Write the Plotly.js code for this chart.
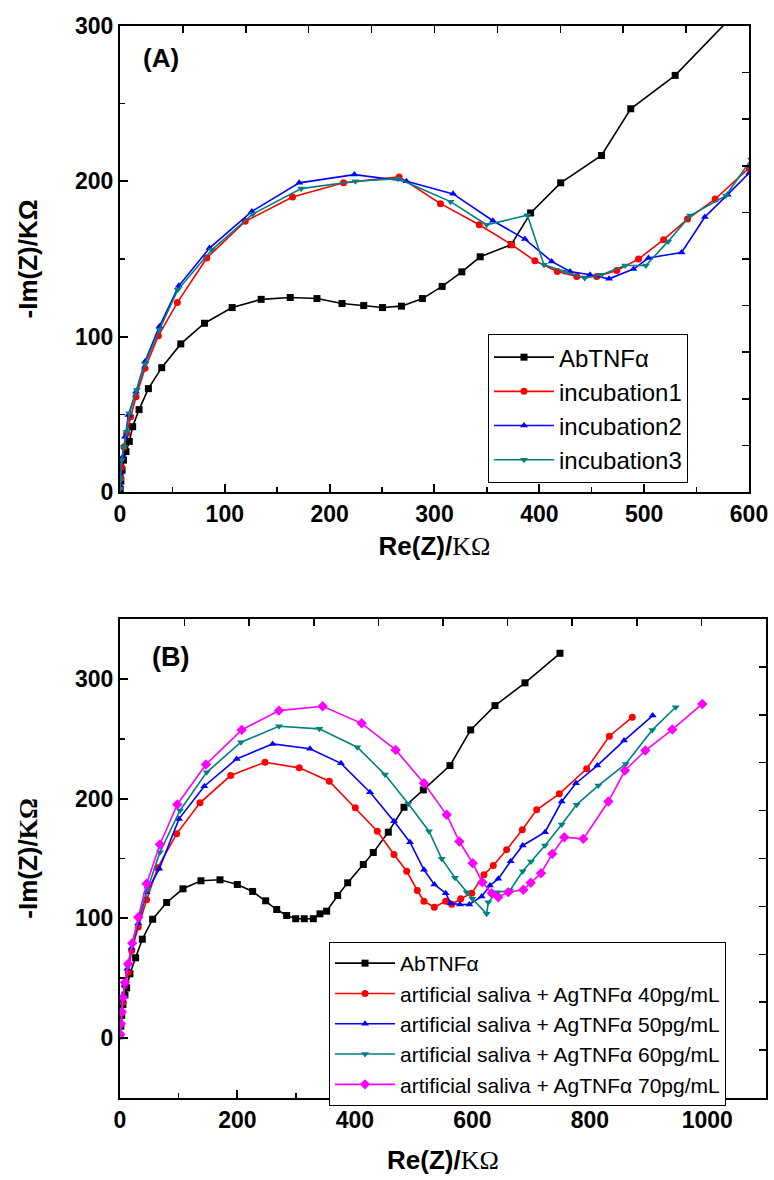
<!DOCTYPE html>
<html>
<head>
<meta charset="utf-8">
<script src="https://cdn.plot.ly/plotly-3.0.1.min.js"></script>
<style>html,body{margin:0;padding:0;background:#fff;}#chart{width:774px;height:1180px;}</style>
</head>
<body>
<div id="chart"></div>
<script>
// ---------- Panel (A) data ----------
var A_names = ['AbTNFα', 'incubation1', 'incubation2', 'incubation3'];
var A_ab_x = [0.2, 0.8, 2.0, 3.4, 5.7, 8.9, 12.1, 18.2, 27.1, 39.8, 58.0, 80.6, 107.0, 134.7, 162.4, 187.9, 211.8, 232.5, 250.4, 268.5, 288.5, 307.3, 326.1, 343.6, 373.2, 391.7, 420.4, 459.3, 487.2, 529.6, 598.0];
var A_ab_y = [1.5, 7, 14, 20.5, 26, 32.5, 42, 53, 66.5, 80, 95.3, 108.6, 118.7, 124, 125.2, 124.5, 121.3, 120, 118.7, 119.6, 124.5, 132.3, 141.7, 151.4, 159.2, 179.6, 199, 216.6, 246.7, 268.2, 316];
var A_in1_x = [0.2, 0.8, 1.6, 3.8, 6.4, 10.2, 15.3, 23.9, 36.6, 54.7, 82.8, 119.4, 164.6, 213.3, 266.3, 305.7, 342.7, 373.6, 395.8, 417.2, 435.7, 454.8, 473.9, 494.6, 518.5, 541.4, 567.8, 600.3];
var A_in1_y = [3, 9, 16.1, 29, 37.7, 48.4, 61.3, 79.6, 100.5, 121.9, 150.6, 174.2, 189.9, 199, 202.8, 185.6, 172, 159.2, 148.8, 141.9, 138.7, 138.7, 142.6, 149.9, 162.4, 175.7, 188.6, 208.6];
var A_in2_x = [0.2, 0.6, 2.5, 4.8, 8, 15.3, 23.9, 37.6, 56.1, 85.4, 125.8, 171, 223.6, 273.3, 317.8, 355.7, 386.3, 411.8, 429.3, 448.4, 466.5, 489.8, 504.1, 535.7, 557.9, 579.6, 600.3];
var A_in2_y = [4, 11.9, 22.6, 35.5, 49.5, 64.5, 83.9, 106.5, 132.7, 157, 180.6, 199, 204.3, 200, 191.9, 174.6, 162.8, 148.4, 141.9, 139.8, 137.2, 143.5, 150.6, 154.2, 177, 191.4, 205.4];
var A_in3_x = [0, 0.5, 1.6, 3.8, 6.4, 8.9, 16, 23.9, 37.6, 55.1, 87.6, 126.8, 172.9, 224.5, 265.3, 315.3, 349.7, 388.6, 404.4, 423.5, 443.3, 459.3, 481.8, 501.6, 522.9, 543.9, 578, 602];
var A_in3_y = [2, 7.5, 20.5, 29, 38.7, 50.6, 65.6, 82.5, 104.5, 130.1, 155.9, 179, 195.3, 200, 201.7, 186.9, 172, 178.1, 146.3, 141.9, 137.7, 139.8, 145.8, 145.8, 161.3, 177.9, 190.8, 214];

// ---------- Panel (B) data ----------
var B_names = ['AbTNFα', 'artificial saliva + AgTNFα 40pg/mL', 'artificial saliva + AgTNFα 50pg/mL', 'artificial saliva + AgTNFα 60pg/mL', 'artificial saliva + AgTNFα 70pg/mL'];
var B_ab_x = [0.5, 1.5, 3, 5, 8.5, 11.3, 17, 26.6, 38, 55.6, 79.5, 107.3, 137.9, 170.3, 199.8, 225.9, 248.1, 266.8, 283.8, 299.2, 313.8, 329.2, 340.5, 351.9, 370.7, 387.7, 414.3, 431.3, 456.9, 483.6, 516.5, 561.9, 597.1, 638.5, 689.6, 749.2];
var B_ab_y = [2, 10, 19, 28, 36, 42, 53.7, 67.1, 82.6, 99.3, 113.3, 124.7, 131.4, 132.2, 128.3, 122.5, 114.7, 107.4, 102.4, 99.7, 99.7, 99.7, 103.8, 106, 119.1, 129.7, 145, 155, 172, 192.8, 207.3, 227.6, 257.4, 277.7, 296.7, 321.4];
var B_40_x = [0.5, 1.5, 3, 5, 8.5, 14.1, 19.9, 31.2, 45.4, 64.2, 96.5, 136.2, 188.5, 246.9, 305.3, 356.4, 400.7, 438.2, 466.5, 488.2, 506.3, 517.6, 535.2, 554.6, 564.8, 580.1, 598.8, 619.8, 635.6, 658.4, 685, 709.5, 748, 794.6, 833.2, 872.3];
var B_40_y = [3, 12, 21, 30, 44, 55, 73.2, 92.7, 115.5, 142.2, 170.6, 196.5, 219.3, 230.4, 225.7, 214.5, 192.3, 172.8, 153.3, 139.4, 123.3, 114.4, 109.3, 114.4, 111.7, 116.4, 121, 136.4, 144.2, 157.3, 174, 190.7, 204, 224.9, 252.1, 268];
var B_50_x = [0.5, 1.5, 3, 5, 8, 12.5, 19.9, 31.2, 45.4, 66.9, 100.5, 143.5, 198.6, 260, 323.5, 376.3, 425.7, 466.5, 493.8, 517.6, 535.2, 554.6, 563, 578.9, 594.8, 615.9, 630, 644.2, 665.2, 685.7, 723.7, 752.1, 776.4, 812.7, 858.2, 907];
var B_50_y = [3, 12, 22, 32, 44, 58, 75.5, 96, 121.9, 141.4, 183.1, 210.4, 233.2, 245.7, 241.6, 229.5, 205.3, 181.1, 163.6, 140.6, 128.3, 121, 112.7, 111.6, 111.6, 118.3, 127.5, 133, 147.7, 160.9, 172, 197.6, 212.9, 227.6, 248.5, 269.4];
var B_60_x = [0.5, 1.5, 3, 5, 8, 13, 21, 32, 47.1, 68.1, 102.2, 147.6, 206, 270.7, 339.4, 404.1, 451.2, 490.9, 526.1, 547.8, 570.4, 590.3, 600, 624.3, 627.1, 641.4, 664, 685.7, 699.8, 723.7, 752.1, 777.6, 814.4, 861.1, 906.4, 946.2];
var B_60_y = [3, 12, 22, 32, 45, 60, 78, 100, 124.7, 155.3, 190.1, 222, 247.1, 260.4, 258.3, 242.9, 220.1, 195.7, 172.8, 149.7, 133.9, 121.9, 116.4, 103.8, 113.5, 121.9, 123.3, 139.4, 147.5, 160.9, 178.4, 195, 210.9, 229, 257.4, 276.3];
var B_70_x = [0.5, 1.5, 3, 5, 8.5, 14.1, 20.9, 31.2, 45.4, 68.1, 97.6, 146.4, 207.2, 270.7, 345.1, 411.5, 469.4, 517.6, 556.3, 577.8, 600.5, 616.9, 632.9, 644.2, 661.2, 686.8, 699.3, 716.8, 736.1, 756.5, 788.9, 831.5, 859.9, 894.5, 940.4, 991.5];
var B_70_y = [3, 12, 22, 34, 46.7, 62.1, 79.3, 101, 128.9, 161.7, 195.1, 228.5, 257.4, 273.5, 277.1, 262.9, 240.7, 212.9, 186.5, 164.2, 146.1, 130.2, 121, 117.7, 121.9, 123.9, 129.7, 137.7, 153.9, 167.8, 166.4, 197.6, 223.5, 240.2, 257.7, 279.1];

var A_series = [[A_ab_x, A_ab_y], [A_in1_x, A_in1_y], [A_in2_x, A_in2_y], [A_in3_x, A_in3_y]];
var B_series = [[B_ab_x, B_ab_y], [B_40_x, B_40_y], [B_50_x, B_50_y], [B_60_x, B_60_y], [B_70_x, B_70_y]];

var colors = ['#000000', '#ff0000', '#0000ff', '#008080', '#ff00ff'];
var symbols = ['square', 'circle', 'triangle-up', 'triangle-down', 'diamond'];

var SANS = 'Liberation Sans, Arial, sans-serif';
var SERIF = 'Liberation Serif, Times New Roman, serif';

var traces = [];
A_series.forEach(function (s, i) {
  traces.push({
    type: 'scatter', mode: 'lines+markers', x: s[0], y: s[1], name: A_names[i],
    xaxis: 'x', yaxis: 'y', legend: 'legend',
    line: {color: colors[i], width: 1.6},
    marker: {color: colors[i], symbol: symbols[i], size: 7}
  });
});
B_series.forEach(function (s, i) {
  traces.push({
    type: 'scatter', mode: 'lines+markers', x: s[0], y: s[1], name: B_names[i],
    xaxis: 'x3', yaxis: 'y3', legend: 'legend2',
    line: {color: colors[i], width: 1.6},
    marker: {color: colors[i], symbol: symbols[i], size: i === 4 ? 8 : 7}
  });
});
// empty carrier traces so the top/right frame axes (own tick spacing) get drawn
traces.push({type: 'scatter', mode: 'lines', x: [], y: [], xaxis: 'x2', yaxis: 'y2', showlegend: false, hoverinfo: 'skip'});
traces.push({type: 'scatter', mode: 'lines', x: [], y: [], xaxis: 'x4', yaxis: 'y4', showlegend: false, hoverinfo: 'skip'});

var tickFont = {family: SANS, size: 23, color: '#000', weight: 'bold'};
function baseAxis(extra) {
  var o = {
    showline: true, linecolor: '#000', linewidth: 2, mirror: false,
    ticks: 'inside', ticklen: 8, tickwidth: 2, tickcolor: '#000',
    showgrid: false, zeroline: false, tickfont: tickFont, fixedrange: true
  };
  for (var k in extra) o[k] = extra[k];
  return o;
}
function mirrorAxis(extra) {
  var o = {
    showline: true, linecolor: '#000', linewidth: 2,
    ticks: 'inside', ticklen: 7, tickwidth: 1.5, tickcolor: '#000',
    showticklabels: false, showgrid: false, zeroline: false, fixedrange: true
  };
  for (var k in extra) o[k] = extra[k];
  return o;
}

var xTitle = '<b>Re(Z)/</b><span style="font-family:' + SERIF + '">KΩ</span>';

var layout = {
  width: 774, height: 1180,
  margin: {l: 0, r: 0, t: 0, b: 0},
  paper_bgcolor: '#fff', plot_bgcolor: 'rgba(0,0,0,0)',
  font: {family: SANS, color: '#000'},
  showlegend: true,
  xaxis: baseAxis({
    domain: [0.155, 0.9677], anchor: 'y', range: [0, 600], dtick: 100, tick0: 0,
    minor: {ticks: 'inside', ticklen: 5, tickwidth: 1.5, dtick: 50, tickcolor: '#000'},
    title: {text: xTitle, font: {size: 26, family: SANS}, standoff: 11}
  }),
  xaxis2: mirrorAxis({overlaying: 'x', anchor: 'y', side: 'top', range: [0, 600], dtick: 60, tick0: 0}),
  yaxis: baseAxis({
    domain: [0.5831, 0.978], anchor: 'x', range: [0, 300], dtick: 100, tick0: 0,
    minor: {ticks: 'inside', ticklen: 5, tickwidth: 1.5, dtick: 50, tickcolor: '#000'},
    title: {text: '<b>-Im(Z)/KΩ</b>', font: {size: 26, family: SANS}, standoff: 30}
  }),
  yaxis2: mirrorAxis({overlaying: 'y', anchor: 'x', side: 'right', range: [0, 300], dtick: 30, tick0: 0}),

  xaxis3: baseAxis({
    domain: [0.155, 0.9897], anchor: 'y3', range: [0, 1100], dtick: 200, tick0: 0,
    minor: {ticks: 'inside', ticklen: 5, tickwidth: 1.5, dtick: 100, tickcolor: '#000'},
    title: {text: xTitle, font: {size: 26, family: SANS}, standoff: 19}
  }),
  xaxis4: mirrorAxis({overlaying: 'x3', anchor: 'y3', side: 'top', range: [0, 1100], dtick: 110, tick0: 0}),
  yaxis3: baseAxis({
    domain: [0.0695, 0.4754], anchor: 'x3', range: [-50, 350], dtick: 100, tick0: 0,
    minor: {ticks: 'inside', ticklen: 5, tickwidth: 1.5, dtick: 50, tickcolor: '#000'},
    title: {text: '<b>-Im(Z)/</b><span style="font-family:' + SERIF + '"><b>KΩ</b></span>', font: {size: 26, family: SANS}, standoff: 30}
  }),
  yaxis4: mirrorAxis({overlaying: 'y3', anchor: 'x3', side: 'right', range: [-50, 350], dtick: 40, tick0: -50}),

  legend: {
    x: 0.6305, y: 0.7169, xanchor: 'left', yanchor: 'top',
    bgcolor: '#fff', bordercolor: '#000', borderwidth: 1,
    font: {family: SANS, size: 24, color: '#000'},
    itemwidth: 60, tracegroupgap: 0
  },
  legend2: {
    x: 0.4251, y: 0.2017, xanchor: 'left', yanchor: 'top',
    bgcolor: '#fff', bordercolor: '#000', borderwidth: 1,
    font: {family: SANS, size: 21, color: '#000'},
    itemwidth: 60, tracegroupgap: 0
  },
  annotations: [
    {text: '<b>(A)</b>', xref: 'paper', yref: 'paper', x: 161 / 774, y: 1 - 58 / 1180, xanchor: 'center', yanchor: 'middle', showarrow: false, font: {family: SANS, size: 26, color: '#000'}},
    {text: '<b>(B)</b>', xref: 'paper', yref: 'paper', x: 170 / 774, y: 1 - 657 / 1180, xanchor: 'center', yanchor: 'middle', showarrow: false, font: {family: SANS, size: 27, color: '#000'}}
  ]
};

Plotly.newPlot('chart', traces, layout, {staticPlot: true, displayModeBar: false});
</script>
</body>
</html>
